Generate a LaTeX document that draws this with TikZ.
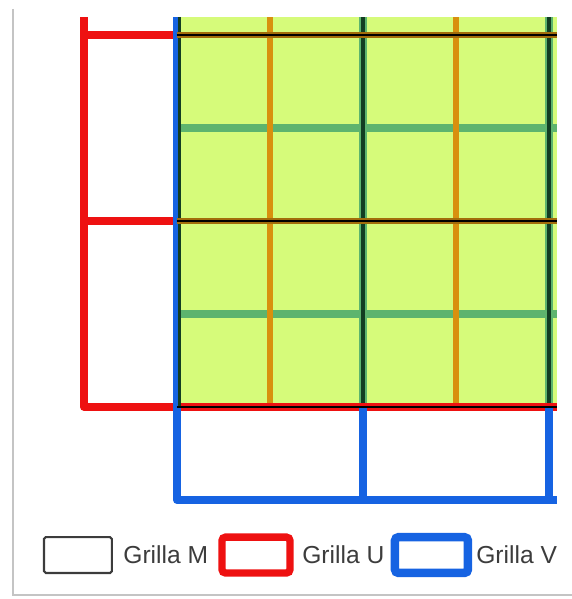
\documentclass[tikz,border=0pt]{standalone}
\usepackage{fontspec}
\setmainfont{Liberation Sans}
\usetikzlibrary{positioning}
\definecolor{GridFill}{HTML}{D6FB7A}
\definecolor{GridOrange}{HTML}{D8900E}
\definecolor{GridGreen}{HTML}{5DB46E}
\definecolor{GridDark}{HTML}{123D22}
\definecolor{GridRed}{HTML}{EE1111}
\definecolor{GridBlue}{HTML}{1663E2}
\definecolor{GridText}{HTML}{3C3C3C}
\definecolor{FrameGrey}{HTML}{C4C4C4}
\tikzset{
  ugrid/.style={GridRed, line width=4.4pt, line join=round},
  vgrid/.style={GridBlue, line width=4.6pt, line join=round},
  legendtext/.style={GridText, font=\fontsize{14}{16}\selectfont, anchor=west, inner sep=0pt}
}

\begin{document}
\begin{tikzpicture}[x=1.86cm, y=1.86cm]
      \useasboundingbox (-1.903,-2.065) rectangle (4.247,4.376);
      %% Frame of the figure
      \draw[FrameGrey, line width=1.2pt] (-1.763,4.28) -- (-1.763,-2.02) -- (4.247,-2.02);
      %% Cells of grid M
      \fill[GridFill] (0,0) rectangle (4.086,4.194);
      %% Half lines of grid M
      \foreach \y in {1,3}
        \draw[GridGreen, line width=4.4pt] (0,\y) -- (4.086,\y);
      \foreach \x in {1,3}
        \draw[GridOrange, line width=3.8pt] (\x,0) -- (\x,4.194);
      \foreach \x in {2,4} {
        \draw[GridGreen, line width=5pt] (\x,0) -- (\x,4.194);
        \draw[GridDark, line width=2.2pt] (\x,0) -- (\x,4.194);
      }
      %% Grid U (red)
      \draw[ugrid] (0,4) -- (-1,4) -- (-1,4.194);
      \draw[ugrid] (-1,4) -- (-1,0) -- (4.086,0);
      \draw[ugrid] (-1,2) -- (0,2);
      %% Grid V (blue)
      \draw[vgrid] (0,4.194) -- (0,-1) -- (4.086,-1);
      \foreach \x in {2,4}
        \draw[vgrid] (\x,0) -- (\x,-1);
      \draw[GridDark, line width=1.8pt] (0.03,0) -- (0.03,4.194);
      %% Full lines of grid M
      \foreach \y in {2,4}
        \draw[GridOrange!75!black, line width=3.6pt] (0,\y) -- (4.086,\y);
      \foreach \y in {0,2,4}
        \draw[black, line width=1.6pt] (0,\y) -- (4.086,\y);
      %% Legend
      \draw[GridText, line width=1.2pt, rounded corners=1pt] (-1.43,-1.40) rectangle (-0.70,-1.785);
      \node[legendtext] (labelM) at (-0.58,-1.59) {Grilla M};
      \draw[GridRed, line width=4.2pt, rounded corners=2pt] (0.484,-1.40) rectangle (1.215,-1.785);
      \node[legendtext] (labelU) at (1.344,-1.59) {Grilla U};
      \draw[GridBlue, line width=4.8pt, rounded corners=2pt] (2.344,-1.40) rectangle (3.129,-1.785);
      \node[legendtext] (labelV) at (3.215,-1.59) {Grilla V};
    \end{tikzpicture}
\end{document}
